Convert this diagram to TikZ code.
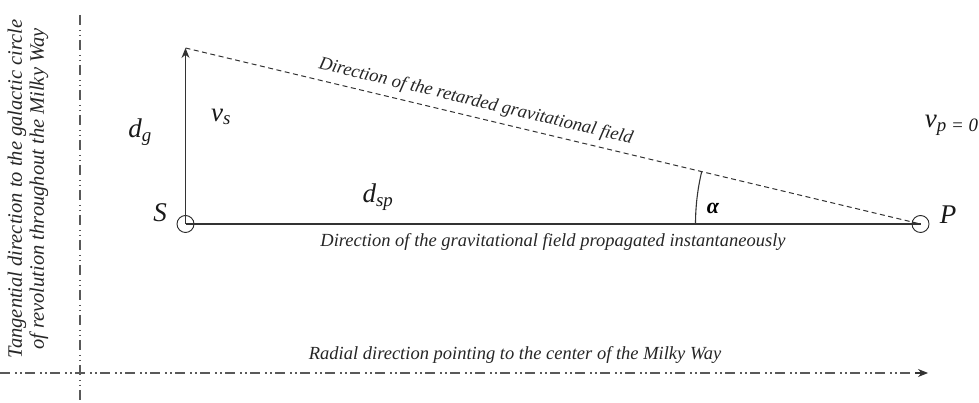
\documentclass[tikz,border=0pt]{standalone}
\usepackage{fontspec}
\setmainfont{Liberation Serif}
\usetikzlibrary{arrows.meta}
\usetikzlibrary{positioning}
\tikzset{axisline/.style={draw=black!65, line width=1.1pt,
    dash pattern=on 10pt off 5pt on 1.5pt off 3.5pt on 1.5pt off 3.5pt}}
\tikzset{pointmark/.style={circle, draw=black!85, line width=0.9pt,
    minimum size=17pt, inner sep=0pt}}

\begin{document}
\begin{tikzpicture}[x=1pt,y=1pt,
      >={Stealth[length=10pt,width=8pt]},
      line width=1.1pt,
      textlabel/.style={font=\itshape\fontsize{18.5}{22}\selectfont, text=black!85},
      mathlabel/.style={font=\itshape\fontsize{27}{30}\selectfont, text=black!90}]

    \useasboundingbox (0,0) rectangle (979,403);

    \coordinate (AxisTop) at (80,388);
    \coordinate (AxisBottom) at (80,0);
    \coordinate (AxisLeft) at (0,30);
    \coordinate (AxisRight) at (928,30);

    \node[pointmark] (S) at (185.5,179) {};
    \node[pointmark] (P) at (920.5,179) {};
    \coordinate (Tip) at (185.5,355);

    \draw[axisline] (AxisTop) -- (AxisBottom);
    \draw[axisline] (AxisLeft) -- ([xshift=-8pt]AxisRight);
    \path[draw=black!80, ->] ([xshift=-13pt]AxisRight) -- (AxisRight);

    \node[textlabel, rotate=90, align=center, font=\itshape\fontsize{20.5}{22}\selectfont]
      (Tangential) at (28,214) {Tangential direction to the galactic circle\\of revolution throughout the Milky Way};
    \path (AxisLeft) -- (AxisRight)
      node[textlabel, pos=0.555, above=6pt] (Radial) {Radial direction pointing to the center of the Milky Way};

    \draw[black!80, ->] (S.center) -- (Tip);
    \draw[black!80] (S.center) -- (P.center)
      node[textlabel, midway, below=6pt] (Instant) {Direction of the gravitational field propagated instantaneously};
    \draw[black!80, line width=1pt, dash pattern=on 5pt off 3.5pt] (Tip) -- (P.center)
      node[textlabel, pos=0.39, sloped, above=3pt] (Retarded) {Direction of the retarded gravitational field};
    \draw[black!80] (P.center) ++(180:225) arc[start angle=180, end angle=166.53, radius=225];

    \node[mathlabel] (LabelS) at (160,190) {S};
    \node[mathlabel] (LabelP) at (948,188) {P};
    \node[mathlabel] (Dg) at (140,271) {d\textsubscript{g}};
    \node[mathlabel] (Vs) at (221,286) {v\textsubscript{s}};
    \node[mathlabel] (Dsp) at (378,206) {d\textsubscript{sp}};
    \node[font=\bfseries\itshape\fontsize{22}{24}\selectfont] (Alpha) at (713,195) {α};
    \node[mathlabel, anchor=east, inner sep=0pt] (Vp) at (979,278) {v\textsubscript{p = 0}};

\end{tikzpicture}
\end{document}
